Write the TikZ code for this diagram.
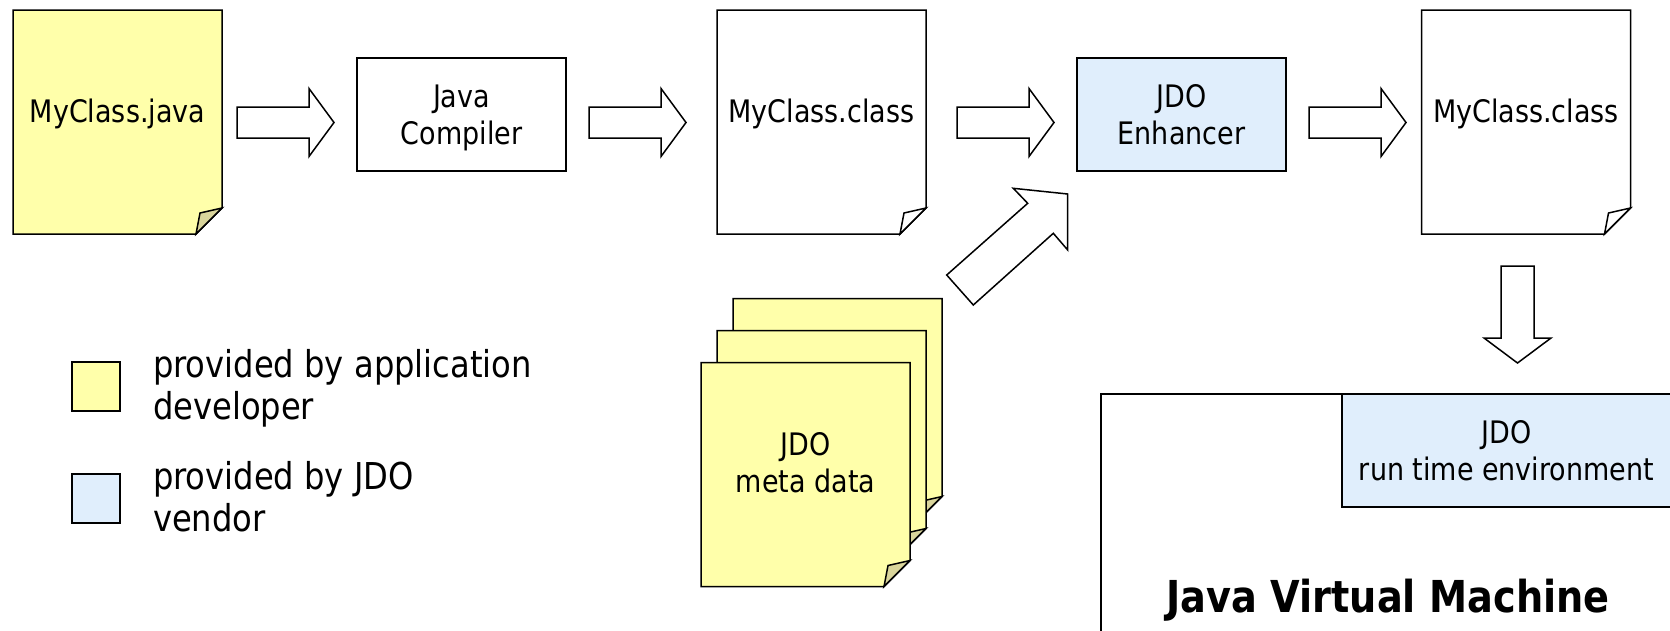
\documentclass[tikz,border=0pt]{standalone}
\usepackage{fontspec}
\setmainfont{DejaVu Sans}[FakeStretch=0.87]
\definecolor{appyellow}{HTML}{FFFFAA}
\definecolor{flapyellow}{HTML}{D9D59B}
\definecolor{vendorblue}{HTML}{E0EEFC}
\tikzset{
  lbl/.style={font=\fontsize{31}{37}\selectfont, align=center, inner sep=0pt, outer sep=0pt, text depth=0pt},
  legendlbl/.style={font=\fontsize{37}{41.5}\selectfont, align=left, inner sep=0pt, outer sep=0pt, text depth=0pt, anchor=south west},
  pagenode/.style={rectangle, minimum width=209pt, minimum height=224pt, inner sep=0pt, outer sep=0pt},
  procbox/.style={rectangle, draw=black, line width=1.5pt, minimum width=209pt, minimum height=113pt, inner sep=0pt, outer sep=0pt, font=\fontsize{31}{37}\selectfont, align=center, text depth=0pt},
  pageline/.style={draw=black, line width=1.5pt, line join=miter},
  blockarrow/.style={draw=black, line width=1.5pt, fill=white, line join=miter},
  legendbox/.style={rectangle, draw=black, line width=1.5pt, minimum width=48pt, minimum height=49pt, inner sep=0pt, outer sep=0pt},
}
% page with folded corner: node name, paper colour, flap colour
\newcommand\jdopage[3]{%
  \draw[pageline, fill=#2] (#1.north west) -- (#1.north east) -- ([yshift=26pt]#1.south east) -- ([xshift=-26pt]#1.south east) -- (#1.south west) -- cycle;
  \draw[pageline, fill=#3] ([yshift=26pt]#1.south east) -- ([xshift=-22pt,yshift=21pt]#1.south east) -- ([xshift=-26pt]#1.south east) -- cycle;}
% horizontal block arrow: left x, centre y
\newcommand\hblock[2]{%
  \draw[blockarrow] (#1,#2-15.5) -- ++(72,0) -- ++(0,-18.5) -- ++(25,34) -- ++(-25,34) -- ++(0,-18.5) -- ++(-72,0) -- cycle;}
\begin{document}
\begin{tikzpicture}[x=1pt,y=-1pt]
\useasboundingbox (0,0) rectangle (1670,630);
\clip (0,0) rectangle (1670,630);

% top row
\node[pagenode] (javapg) at (117.5,122) {};
\jdopage{javapg}{appyellow}{flapyellow}
\node[lbl, anchor=base] (javatxt) at (117.5,122) {MyClass.java};

\hblock{237}{122.5}

\node[procbox] (compiler) at (461.5,114.5) {Java\\Compiler};

\hblock{589}{122.5}

\node[pagenode] (classpg) at (821.5,122) {};
\jdopage{classpg}{white}{white}
\node[lbl, anchor=base] (classtxt) at (821.5,122) {MyClass.class};

\hblock{957}{122.5}

\node[procbox, fill=vendorblue] (enhancer) at (1181.5,114.5) {JDO\\Enhancer};

\hblock{1309}{122.5}

\node[pagenode] (enhpg) at (1526,122) {};
\jdopage{enhpg}{white}{white}
\node[lbl, anchor=base] (enhtxt) at (1526,122) {MyClass.class};

% meta data stack
\node[pagenode] (metac) at (837.5,410.5) {};
\jdopage{metac}{appyellow}{flapyellow}
\node[pagenode] (metab) at (821.5,442.5) {};
\jdopage{metab}{appyellow}{flapyellow}
\node[pagenode] (metaa) at (805.5,474.5) {};
\jdopage{metaa}{appyellow}{flapyellow}
\node[lbl] (metatxt) at (805.5,462) {JDO\\meta data};

% diagonal arrow from meta data to enhancer
\draw[blockarrow] (946.7,275) -- (1027.7,203.3) -- (1013.3,188.3) -- (1067.7,194)
  -- (1067.7,250) -- (1053.3,233.3) -- (973.3,305) -- cycle;

% down arrow into the JVM
\draw[blockarrow] (1501,266) -- (1534,266) -- (1534,338) -- (1551,338) -- (1517.5,363)
  -- (1484,338) -- (1501,338) -- cycle;

% Java Virtual Machine
\node[rectangle, draw=black, line width=1.5pt, minimum width=599pt, minimum height=306pt, inner sep=0pt, outer sep=0pt] (jvm) at (1400.5,547) {};
\node[procbox, fill=vendorblue, minimum width=329pt] (rte) at (1506.5,450.5) {JDO\\run time environment};
\node[inner sep=0pt, anchor=base, font=\fontsize{44}{52}\selectfont\bfseries] (jvmtxt) at (1388,612) {Java Virtual Machine};

% legend
\node[legendbox, fill=appyellow] (legapp) at (96,386.5) {};
\node[legendlbl] (legapptxt) at (153,419) {provided by application\\developer};
\node[legendbox, fill=vendorblue] (legven) at (96,498.5) {};
\node[legendlbl] (legventxt) at (153,531) {provided by JDO\\vendor};
\end{tikzpicture}
\end{document}
